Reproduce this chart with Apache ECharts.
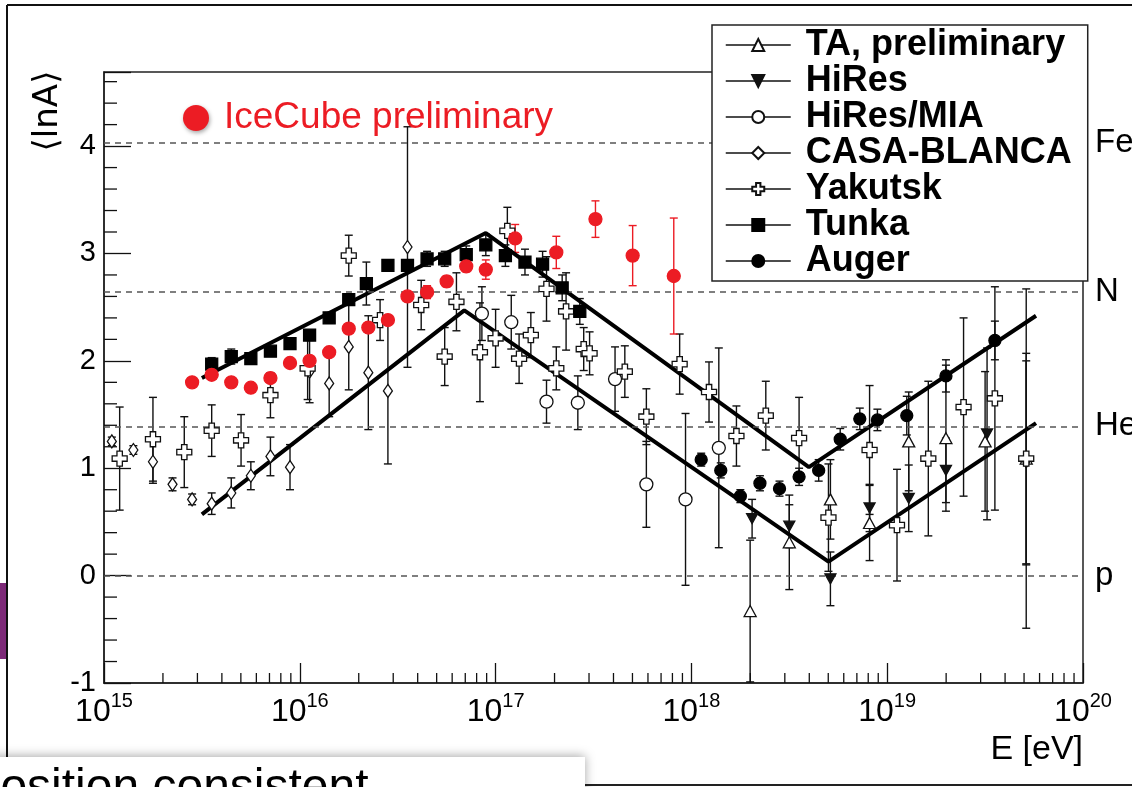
<!DOCTYPE html>
<html>
<head>
<meta charset="utf-8">
<script src="https://cdn.jsdelivr.net/npm/echarts@6/dist/echarts.min.js"></script>
<style>
  html, body { margin: 0; padding: 0; background: #fff; overflow: hidden; }
  #chart { width: 1132px; height: 787px; }
</style>
</head>
<body>
<div id="chart"></div>
<script>
// Mean logarithmic mass <lnA> versus energy; x values are lg(E/eV)

// TA, preliminary
const taE   = [18.30, 18.50, 18.71, 18.91, 19.11, 19.30, 19.50, 19.71];
const taLnA = [-0.33, 0.31, 0.71, 0.49, 1.25, 1.28, 1.25, 1.09];
const taErr = [0.66, 0.44, 0.37, 0.35, 0.46, 0.68, 0.65, 0.98];

// HiRes
const hiresE   = [18.31, 18.50, 18.71, 18.91, 19.11, 19.30, 19.51, 19.71];
const hiresLnA = [0.53, 0.46, -0.03, 0.63, 0.72, 0.98, 1.32, 1.05];
const hiresErr = [0.18, 0.20, 0.25, 0.22, 0.31, 0.30, 0.80, 0.95];

// HiRes/MIA
const miaE   = [16.93, 17.08, 17.26, 17.42, 17.61, 17.77, 17.97, 18.14];
const miaLnA = [2.44, 2.36, 1.62, 1.61, 1.83, 0.85, 0.71, 1.19];
const miaErr = [0.25, 0.25, 0.20, 0.25, 0.30, 0.40, 0.80, 0.93];

// CASA-BLANCA
const casaE   = [15.04, 15.15, 15.25, 15.35, 15.45, 15.55, 15.65, 15.75, 15.85, 15.95, 16.05, 16.15, 16.25, 16.35, 16.45, 16.55];
const casaLnA = [1.25, 1.17, 1.06, 0.85, 0.71, 0.67, 0.77, 0.93, 1.11, 1.01, 1.90, 1.79, 2.13, 1.89, 1.72, 3.06];
const casaErr = [0.04, 0.04, 0.20, 0.06, 0.05, 0.10, 0.14, 0.13, 0.18, 0.21, 0.29, 0.31, 0.40, 0.53, 0.68, 1.12];

// Yakutsk
const yakE   = [15.08, 15.25, 15.41, 15.55, 15.70, 15.85, 16.04, 16.25, 16.41, 16.62, 16.74, 16.80, 16.92, 17.00, 17.06, 17.12, 17.18, 17.26,
                17.31, 17.36, 17.45, 17.48, 17.66, 17.77, 17.94, 18.09, 18.23, 18.38, 18.55, 18.70, 18.91, 19.05, 19.21, 19.39, 19.55, 19.71];
const yakLnA = [1.09, 1.27, 1.15, 1.35, 1.26, 1.68, 1.93, 2.98, 2.38, 2.52, 2.04, 2.55, 2.08, 2.21, 3.21, 2.02, 2.24, 2.67,
                1.93, 2.46, 2.11, 2.07, 1.90, 1.48, 1.97, 1.71, 1.30, 1.49, 1.28, 0.54, 1.17, 0.47, 1.09, 1.57, 1.65, 1.09];
const yakErr = [0.48, 0.39, 0.33, 0.24, 0.24, 0.21, 0.29, 0.19, 0.19, 0.23, 0.27, 0.27, 0.46, 0.27, 0.22, 0.23, 0.21, 0.30,
                0.20, 0.36, 0.20, 0.20, 0.24, 0.26, 0.28, 0.28, 0.28, 0.32, 0.38, 0.50, 0.60, 0.52, 0.72, 0.83, 1.04, 1.58];

// Tunka
const tunkaE   = [15.55, 15.65, 15.75, 15.85, 15.95, 16.05, 16.15, 16.25, 16.34, 16.45, 16.55, 16.65, 16.74, 16.85, 16.95, 17.05, 17.15, 17.24, 17.34, 17.43];
const tunkaLnA = [1.97, 2.04, 2.02, 2.09, 2.16, 2.24, 2.40, 2.57, 2.72, 2.89, 2.89, 2.95, 2.95, 2.99, 3.08, 2.98, 2.92, 2.90, 2.68, 2.46];
const tunkaErr = [0.06, 0.07, 0.04, 0.04, 0.04, 0.04, 0.05, 0.05, 0.20, 0.05, 0.05, 0.07, 0.07, 0.08, 0.10, 0.10, 0.12, 0.12, 0.12, 0.12];

// Auger
const augerE   = [18.05, 18.15, 18.25, 18.35, 18.45, 18.55, 18.65, 18.76, 18.86, 18.95, 19.10, 19.30, 19.55];
const augerLnA = [1.08, 0.98, 0.74, 0.86, 0.81, 0.92, 0.98, 1.27, 1.46, 1.45, 1.49, 1.86, 2.19];
const augerErr = [0.06, 0.07, 0.06, 0.07, 0.07, 0.08, 0.10, 0.10, 0.10, 0.10, 0.18, 0.15, 0.18];

// IceCube preliminary
const iceE   = [15.45, 15.55, 15.65, 15.75, 15.85, 15.95, 16.05, 16.15, 16.25, 16.35, 16.45, 16.55, 16.65, 16.75, 16.85, 16.95, 17.10, 17.31, 17.51, 17.70, 17.91];
const iceLnA = [1.80, 1.87, 1.80, 1.75, 1.84, 1.98, 2.00, 2.08, 2.30, 2.31, 2.38, 2.60, 2.64, 2.74, 2.88, 2.85, 3.14, 3.01, 3.32, 2.98, 2.79];
const iceErr = [0.03, 0.03, 0.03, 0.03, 0.03, 0.03, 0.03, 0.03, 0.03, 0.03, 0.03, 0.04, 0.06, 0.05, 0.05, 0.09, 0.13, 0.15, 0.17, 0.28, 0.54];

// Broken-line model bands
const upperFitE   = [15.50, 16.95, 18.60, 19.76];
const upperFitLnA = [1.84, 3.19, 1.01, 2.42];
const lowerFitE   = [15.50, 16.84, 18.70, 19.76];
const lowerFitLnA = [0.57, 2.47, 0.13, 1.42];

// Reference nuclei: ln(56), ln(14), ln(4), ln(1)
const nucleusNames = ['Fe', 'N', 'He', 'p'];
const nucleusLnA   = [4.025, 2.639, 1.386, 0];

const xTickExponents = [15, 16, 17, 18, 19, 20];

const FONT = '"Liberation Sans", Arial, Helvetica, sans-serif';
const INK = '#111';
const RED = '#ec1c24';

const zip = (xs, ys, es) => xs.map((x, i) => es ? [x, ys[i], es[i]] : [x, ys[i]]);

function errorBars(xs, ys, es, color) {
  return {
    type: 'custom',
    z: 2,
    silent: true,
    data: zip(xs, ys, es),
    encode: { x: 0, y: 1 },
    renderItem: (params, api) => {
      const x = api.value(0), y = api.value(1), e = api.value(2);
      const top = api.coord([x, y + e]);
      const bot = api.coord([x, y - e]);
      const cap = 4;
      const st = { stroke: color, lineWidth: 1.4 };
      return {
        type: 'group',
        children: [
          { type: 'line', shape: { x1: top[0], y1: top[1], x2: bot[0], y2: bot[1] }, style: st },
          { type: 'line', shape: { x1: top[0] - cap, y1: top[1], x2: top[0] + cap, y2: top[1] }, style: st },
          { type: 'line', shape: { x1: bot[0] - cap, y1: bot[1], x2: bot[0] + cap, y2: bot[1] }, style: st }
        ]
      };
    }
  };
}

function markers(name, xs, ys, symbol, size, fill, stroke) {
  return {
    type: 'line',
    name: name,
    z: 5,
    data: zip(xs, ys),
    symbol: symbol,
    symbolSize: size,
    showSymbol: true,
    showAllSymbol: true,
    silent: true,
    lineStyle: { width: 0 },
    itemStyle: { color: fill, borderColor: stroke, borderWidth: 1.3, opacity: 1 },
    emphasis: { disabled: true }
  };
}

const crossPath = 'path://M3.2,0 H6.8 V3.2 H10 V6.8 H6.8 V10 H3.2 V6.8 H0 V3.2 H3.2 Z';
const downTriangle = 'path://M0,0 L10,0 L5,9 Z';

// minor ticks: log decades on x, 0.2 steps on y
const xMinor = [];
for (let d = 15; d < 20; d++) for (let k = 2; k <= 9; k++) xMinor.push([d + Math.log10(k), -1]);
const yMinor = [];
for (let i = -4; i <= 23; i++) if (i % 5 !== 0) yMinor.push([15, i / 5]);

const minorTicks = (data, horizontal, len) => ({
  type: 'custom',
  z: 1,
  silent: true,
  data: data,
  encode: { x: 0, y: 1 },
  renderItem: (params, api) => {
    const p = api.coord([api.value(0), api.value(1)]);
    const shape = horizontal
      ? { x1: p[0], y1: p[1], x2: p[0] + len, y2: p[1] }
      : { x1: p[0], y1: p[1], x2: p[0], y2: p[1] - len };
    return { type: 'line', shape: shape, style: { stroke: INK, lineWidth: 1.3 } };
  }
});

const legendNames = ['TA, preliminary', 'HiRes', 'HiRes/MIA', 'CASA-BLANCA', 'Yakutsk', 'Tunka', 'Auger'];

const chart = echarts.init(document.getElementById('chart'), null, { renderer: 'canvas' });

chart.setOption({
  animation: false,
  backgroundColor: '#fff',
  textStyle: { fontFamily: FONT },
  grid: { left: 104, top: 72, right: 49, bottom: 104, show: true, borderColor: '#222', borderWidth: 1.5, backgroundColor: 'transparent', outerBoundsMode: 'none' },
  xAxis: {
    type: 'value', min: 15, max: 20, interval: 1,
    axisLine: { show: true, onZero: false, lineStyle: { color: '#222', width: 1.5 } },
    axisTick: { show: true, inside: true, length: 20, lineStyle: { color: INK, width: 1.3 } },
    splitLine: { show: false },
    axisLabel: {
      show: true, margin: 8, showMinLabel: true, showMaxLabel: true,
      formatter: v => xTickExponents.indexOf(v) >= 0 ? '{b|10}{s|' + v + '}' : '',
      rich: {
        b: { fontSize: 32, lineHeight: 37, verticalAlign: 'bottom', color: '#000', fontFamily: FONT },
        s: { fontSize: 20, lineHeight: 20, verticalAlign: 'top', color: '#000', fontFamily: FONT }
      }
    }
  },
  yAxis: {
    type: 'value', min: -1, max: 4.69, interval: 1,
    axisLine: { show: true, onZero: false, lineStyle: { color: '#222', width: 1.5 } },
    axisTick: { show: true, inside: true, length: 27, lineStyle: { color: INK, width: 1.3 } },
    splitLine: { show: false },
    axisLabel: {
      margin: 8, fontSize: 29, color: '#000', fontFamily: FONT,
      formatter: v => Number.isInteger(v) ? String(v) : ''
    }
  },
  legend: {
    data: legendNames,
    selectedMode: false,
    orient: 'vertical',
    left: 712, top: 25,
    padding: [2, 16, 2, 13],
    itemWidth: 65, itemHeight: 15, itemGap: 0,
    backgroundColor: '#fff', borderColor: '#222', borderWidth: 1.5, borderRadius: 0,
    z: 10,
    lineStyle: { color: '#111', width: 1.5, type: 'solid' },
    textStyle: { fontSize: 36, fontWeight: 'bold', color: '#000', fontFamily: FONT, lineHeight: 35, padding: [0, 0, 0, 10] }
  },
  graphic: [
    // slide frame remnants
    { type: 'rect', z: 0, shape: { x: 0, y: 583, width: 6, height: 76 }, style: { fill: '#7d2a78' } },
    { type: 'line', z: 0, shape: { x1: 7, y1: 5, x2: 7, y2: 787 }, style: { stroke: '#111', lineWidth: 2 } },
    { type: 'line', z: 0, shape: { x1: 7, y1: 5, x2: 1132, y2: 5 }, style: { stroke: '#111', lineWidth: 2 } },
    { type: 'line', z: 0, shape: { x1: 585, y1: 785, x2: 1132, y2: 785 }, style: { stroke: '#222', lineWidth: 2 } },
    // y axis title
    { type: 'text', z: 20, x: 48, y: 111, rotation: Math.PI / 2,
      style: { text: '⟨lnA⟩', fill: '#000', font: '34px "DejaVu Sans", ' + FONT, align: 'center', verticalAlign: 'middle' } },
    // x axis title
    { type: 'text', z: 20, x: 1083, y: 750,
      style: { text: 'E [eV]', fill: '#000', font: '34px ' + FONT, align: 'right', verticalAlign: 'middle' } },
    // IceCube annotation
    { type: 'circle', z: 20, shape: { cx: 196, cy: 118, r: 13 },
      style: { fill: RED, shadowBlur: 4, shadowColor: 'rgba(0,0,0,0.35)', shadowOffsetX: 1, shadowOffsetY: 2 } },
    { type: 'text', z: 20, x: 224, y: 118,
      style: { text: 'IceCube preliminary', fill: RED, font: '37px ' + FONT, align: 'left', verticalAlign: 'middle' } },
    // caption box at the slide bottom
    { type: 'rect', z: 30, shape: { x: -10, y: 757, width: 595, height: 60 },
      style: { fill: '#fff', shadowBlur: 10, shadowColor: 'rgba(0,0,0,0.35)', shadowOffsetY: -1 } },
    { type: 'text', z: 31, x: -117, y: 789,
      style: { text: 'composition consistent', fill: '#000', font: '48px ' + FONT, align: 'left', verticalAlign: 'middle' } }
  ],
  series: [
    minorTicks(xMinor, false, 10),
    minorTicks(yMinor, true, 13),
    {
      type: 'line', z: 1, silent: true, data: [],
      markLine: {
        silent: true, symbol: 'none',
        lineStyle: { type: [6, 5], color: '#555', width: 1.5 },
        label: { show: true, position: 'end', distance: 12, formatter: '{b}', fontSize: 33, color: '#000', fontFamily: FONT },
        data: nucleusNames.map((n, i) => ({ name: n, yAxis: nucleusLnA[i] }))
      }
    },
    { type: 'line', z: 3, silent: true, symbol: 'none', data: zip(upperFitE, upperFitLnA), lineStyle: { color: '#000', width: 4 } },
    { type: 'line', z: 3, silent: true, symbol: 'none', data: zip(lowerFitE, lowerFitLnA), lineStyle: { color: '#000', width: 4 } },

    errorBars(taE, taLnA, taErr, INK),
    errorBars(hiresE, hiresLnA, hiresErr, INK),
    errorBars(miaE, miaLnA, miaErr, INK),
    errorBars(casaE, casaLnA, casaErr, INK),
    errorBars(yakE, yakLnA, yakErr, INK),
    errorBars(tunkaE, tunkaLnA, tunkaErr, INK),
    errorBars(augerE, augerLnA, augerErr, INK),
    errorBars(iceE, iceLnA, iceErr, RED),

    markers('TA, preliminary', taE, taLnA, 'triangle', [12, 11], '#fff', INK),
    markers('HiRes', hiresE, hiresLnA, downTriangle, [11, 10], INK, INK),
    markers('HiRes/MIA', miaE, miaLnA, 'circle', 13, '#fff', INK),
    markers('CASA-BLANCA', casaE, casaLnA, 'diamond', [9, 13], '#fff', INK),
    markers('Yakutsk', yakE, yakLnA, crossPath, 15, '#fff', INK),
    markers('Tunka', tunkaE, tunkaLnA, 'rect', 12, '#000', '#000'),
    markers('Auger', augerE, augerLnA, 'circle', 12, '#000', '#000'),
    markers('IceCube preliminary', iceE, iceLnA, 'circle', 13, RED, RED)
  ]
});
</script>
</body>
</html>
